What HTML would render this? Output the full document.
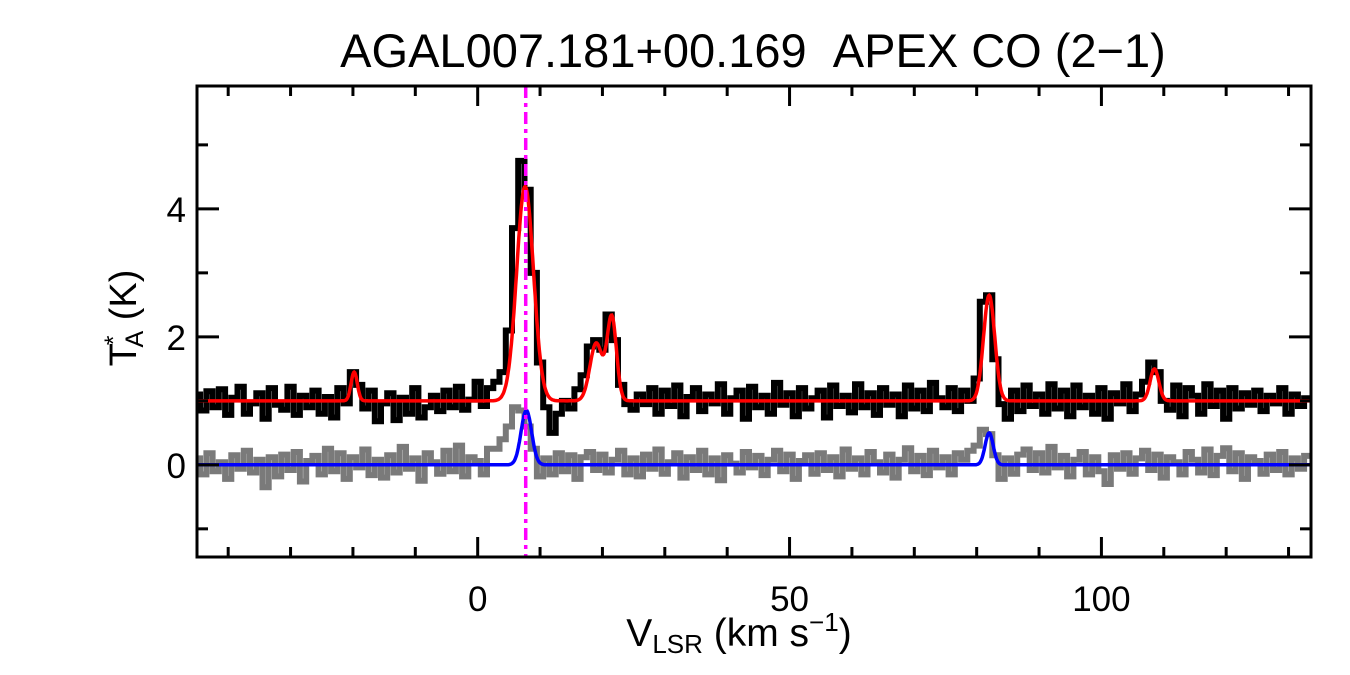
<!DOCTYPE html>
<html><head><meta charset="utf-8">
<style>
html,body{margin:0;padding:0;background:#fff;}
svg{display:block;font-family:"Liberation Sans",Arial,sans-serif;}
</style></head>
<body>
<svg id="chart" width="1350" height="675" viewBox="0 0 1350 675" xmlns="http://www.w3.org/2000/svg">
<defs><clipPath id="pc"><rect x="197" y="86" width="1114" height="471"/></clipPath></defs>
<text x="753" y="67" font-size="47" text-anchor="middle">AGAL007.181+00.169&#160;&#160;APEX CO (2−1)</text>
<g id="marks" clip-path="url(#pc)"></g>
<g id="axes"></g>
<rect x="197" y="86" width="1114" height="471" fill="none" stroke="#000" stroke-width="3"/>
<text x="739" y="646" font-size="39" text-anchor="middle">V<tspan font-size="26" dy="7">LSR</tspan><tspan dy="-7"> (km s</tspan><tspan font-size="26" dy="-15">−1</tspan><tspan dy="15">)</tspan></text>
<text transform="translate(136,318) rotate(-90)" font-size="38" text-anchor="middle">T<tspan font-size="25" dy="-14" dx="-2">*</tspan><tspan font-size="25" dy="21" dx="-12">A</tspan><tspan dy="-7"> (K)</tspan></text>
</svg>
<script>
const vStart = -45;
const blackSpec = [1.10,0.85,1.15,0.90,1.18,0.78,1.05,1.22,0.80,0.96,
1.12,0.72,1.20,0.94,0.86,1.22,0.78,1.08,0.90,1.16,
0.80,1.06,0.74,1.20,0.96,1.45,1.25,0.88,1.16,0.68,
0.96,1.12,0.70,1.05,0.80,1.20,0.74,0.90,1.08,0.84,
1.16,0.90,1.22,0.86,1.02,1.30,0.92,1.20,1.30,1.45,
2.10,3.70,4.75,4.30,3.00,1.60,0.90,0.50,0.80,1.00,
0.88,1.18,1.40,1.85,1.95,1.80,2.35,1.95,1.25,0.95,
0.86,1.10,0.95,1.20,0.80,1.16,0.92,1.24,0.76,1.06,
1.20,0.84,1.10,0.96,1.26,0.80,1.04,1.16,0.72,1.22,
0.90,1.08,0.80,1.28,0.94,1.12,0.76,1.20,0.88,1.04,
1.16,0.74,1.24,0.92,1.08,0.82,1.26,0.90,1.12,0.78,
1.20,0.94,1.10,0.76,1.24,0.88,1.16,0.84,1.28,1.04,
0.90,1.20,0.84,1.16,1.00,1.35,2.55,2.65,1.65,0.95,
0.72,1.16,0.84,1.24,0.92,1.10,0.80,1.26,0.88,1.16,
0.76,1.24,0.90,1.08,0.80,1.20,0.72,1.12,0.96,1.26,
0.84,1.10,1.30,1.60,1.45,1.00,0.86,1.24,0.76,1.20,
1.08,0.80,1.26,0.92,1.16,0.72,1.20,0.88,1.12,0.94,
1.16,0.84,1.08,0.96,1.20,0.80,1.10,0.92,1.04];
const graySpec = [0.10,-0.15,0.18,-0.10,0.04,-0.22,0.15,-0.06,0.22,-0.12,
0.08,-0.35,0.12,-0.18,0.16,-0.08,0.20,-0.26,0.06,0.14,
-0.15,0.25,-0.10,0.18,-0.22,0.12,-0.04,0.24,-0.16,0.08,
-0.20,0.15,-0.12,0.28,-0.06,0.10,-0.25,0.18,0.04,-0.14,
0.22,-0.10,0.30,-0.18,0.12,0.06,-0.15,0.25,0.25,0.40,
0.60,0.90,0.85,0.60,0.25,-0.18,0.10,-0.15,0.18,-0.10,
0.15,-0.22,0.12,0.20,-0.08,0.16,-0.12,0.08,0.22,-0.15,
0.10,-0.18,0.16,-0.06,0.24,-0.14,0.04,0.18,-0.20,0.12,
-0.08,0.22,-0.15,0.10,-0.24,0.15,0.02,-0.12,0.20,-0.04,
0.14,-0.16,0.08,0.22,-0.10,0.16,-0.22,0.06,0.15,-0.14,
0.18,-0.08,0.12,-0.18,0.24,-0.06,0.10,-0.15,0.20,0.04,
-0.12,0.16,-0.20,0.08,0.26,-0.10,0.14,-0.16,0.22,-0.04,
0.12,-0.15,0.18,0.08,0.22,0.30,0.55,0.48,0.15,-0.22,
0.10,-0.14,0.16,0.24,-0.08,0.18,-0.12,0.28,-0.04,0.14,
-0.18,0.08,0.20,-0.15,0.12,-0.10,-0.30,0.15,-0.06,0.18,
-0.14,0.10,0.22,-0.08,0.16,-0.20,0.12,0.04,-0.15,0.20,
0.08,-0.12,0.24,-0.16,0.14,0.26,-0.10,0.18,-0.22,0.12,
0.06,-0.14,0.16,-0.08,0.20,-0.15,0.10,-0.06,0.14];
const redBase = 1.0;
const redCenters = [-19.8, 7.6, 19.0, 21.5, 82.0, 108.5];
const redAmps = [0.45, 3.35, 0.9, 1.3, 1.65, 0.5];
const redSigmas = [0.5, 1.35, 1.0, 0.75, 0.9, 0.7];
const blueBase = 0.0;
const blueCenters = [7.8, 82.0];
const blueAmps = [0.85, 0.5];
const blueSigmas = [0.85, 0.65];
const vMarker = 7.7;
const xTicks = [0, 50, 100];
const xMinor = [-40,-30,-20,-10,10,20,30,40,60,70,80,90,110,120,130];
const yTicks = [0, 2, 4];
const yMinor = [-1, 1, 3, 5];
const xMin=-45, xMax=133.6, yMin=-1.44, yMax=5.92;
const L=197,R=1311,T=86,B=557;
const xs=v=>L+(v-xMin)/(xMax-xMin)*(R-L);
const ys=y=>B-(y-yMin)/(yMax-yMin)*(B-T);
const NS='http://www.w3.org/2000/svg';
const marks=document.getElementById('marks'), axes=document.getElementById('axes');
function mk(tag,attrs,parent){const e=document.createElementNS(NS,tag);for(const k in attrs)e.setAttribute(k,attrs[k]);parent.appendChild(e);return e;}
function stepPath(arr){let d='';arr.forEach((y,i)=>{const v=vStart+i;const a=xs(v-0.5),b=xs(v+0.5),yy=ys(y);d+=(i?'L':'M')+a.toFixed(1)+','+yy.toFixed(1)+'L'+b.toFixed(1)+','+yy.toFixed(1);});return d;}
function gaussPath(base,c,a,s){let d='';for(let v=xMin;v<=xMax;v+=0.1){let y=base;for(let k=0;k<c.length;k++)y+=a[k]*Math.exp(-0.5*Math.pow((v-c[k])/s[k],2));d+=(d?'L':'M')+xs(v).toFixed(1)+','+ys(y).toFixed(1);}return d;}
let p;
p=mk('path',{d:stepPath(graySpec),fill:'none',stroke:'#7a7a7a','stroke-width':6},marks);


p=mk('path',{d:stepPath(blackSpec),fill:'none',stroke:'#000','stroke-width':6},marks);


p=mk('path',{d:gaussPath(redBase,redCenters,redAmps,redSigmas),fill:'none',stroke:'#ff0000','stroke-width':3.5},marks);


p=mk('path',{d:gaussPath(blueBase,blueCenters,blueAmps,blueSigmas),fill:'none',stroke:'#0000ff','stroke-width':3.5},marks);


p=mk('line',{x1:xs(vMarker),x2:xs(vMarker),y1:T,y2:B,stroke:'#ff00ff','stroke-width':3.5,'stroke-dasharray':'12,5,4,5'},marks);


xTicks.forEach(v=>{const x=xs(v);
 let t=mk('line',{x1:x,x2:x,y1:B,y2:B-20,stroke:'#000','stroke-width':3},axes);
 
 
 t=mk('line',{x1:x,x2:x,y1:T,y2:T+20,stroke:'#000','stroke-width':3},axes);
 
 
 const l=mk('text',{x:x,y:611,'font-size':35,'text-anchor':'middle'},axes);l.textContent=v;
 
 });
xMinor.forEach(v=>{const x=xs(v);
 let t=mk('line',{x1:x,x2:x,y1:B,y2:B-10,stroke:'#000','stroke-width':3},axes);
 
 
 t=mk('line',{x1:x,x2:x,y1:T,y2:T+10,stroke:'#000','stroke-width':3},axes);
 
 });
yTicks.forEach(v=>{const y=ys(v);
 let t=mk('line',{x1:L,x2:L+22,y1:y,y2:y,stroke:'#000','stroke-width':3},axes);
 
 
 t=mk('line',{x1:R,x2:R-22,y1:y,y2:y,stroke:'#000','stroke-width':3},axes);
 
 
 const l=mk('text',{x:186,y:y+13,'font-size':35,'text-anchor':'end'},axes);l.textContent=v;
 
 });
yMinor.forEach(v=>{const y=ys(v);
 let t=mk('line',{x1:L,x2:L+11,y1:y,y2:y,stroke:'#000','stroke-width':3},axes);
 
 
 t=mk('line',{x1:R,x2:R-11,y1:y,y2:y,stroke:'#000','stroke-width':3},axes);
 
 });
</script>
</body></html>
